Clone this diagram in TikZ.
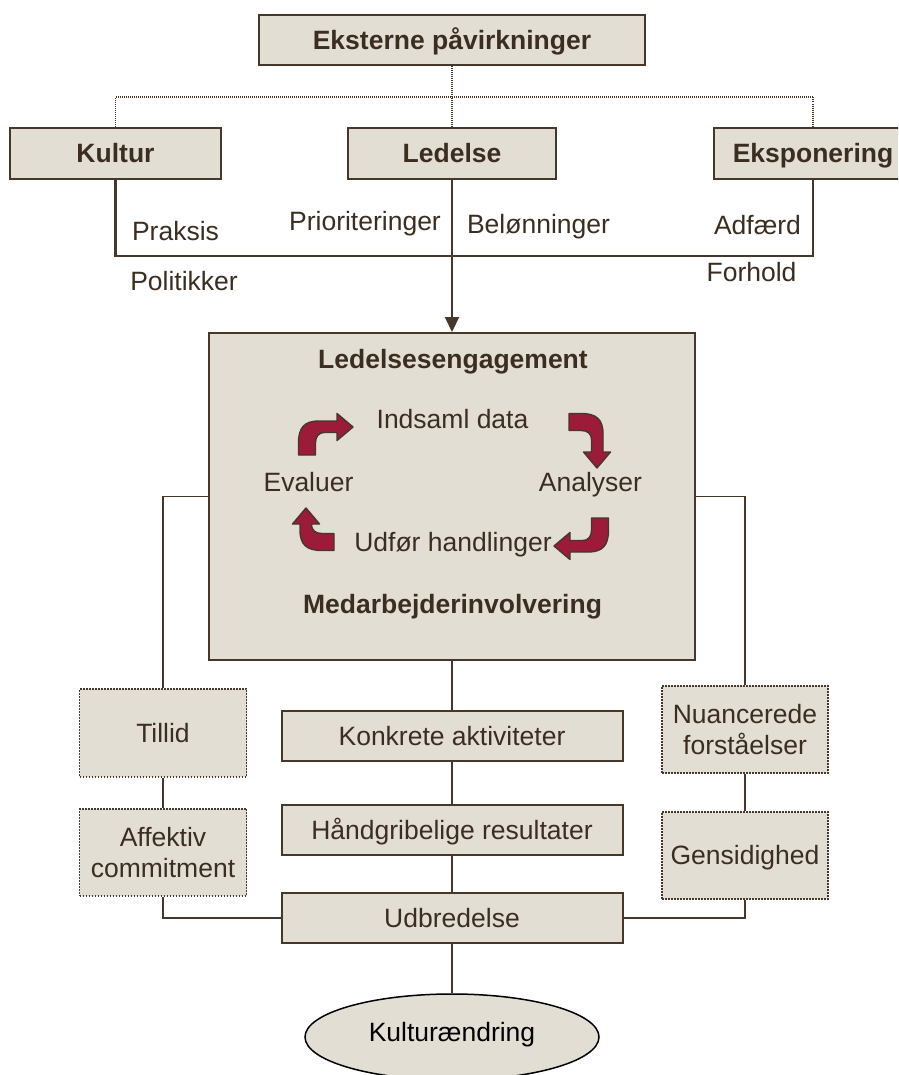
\documentclass[tikz,border=0pt]{standalone}
\usepackage{fontspec}
\setmainfont{Liberation Sans}
\usetikzlibrary{arrows.meta,shapes.geometric}
\definecolor{boxfill}{HTML}{E2DED4}
\definecolor{ink}{HTML}{45372A}
\definecolor{txt}{HTML}{3B2E20}
\definecolor{arrred}{HTML}{9B1B38}
\newcommand{\cycarrow}[4]{%
  \begin{scope}[shift={(#1,#2)}, rotate=#3]
    \filldraw[cyc] (-8.5,0) -- (-8.5,-12) .. controls (-8.5,-27) and (-3,-34) .. (12,-34) -- (#4,-34) -- (#4,-41.5)
      -- ({#4+16},-28) -- (#4,-14.5) -- (#4,-22.5) -- (18,-22.5) .. controls (11,-22.5) and (8.5,-18) .. (8.5,-12) -- (8.5,0) -- cycle;
  \end{scope}}
\begin{document}
\begin{tikzpicture}[x=1pt,y=-1pt,
  font=\fontsize{26.5}{31}\selectfont, text=txt,
  box/.style={draw=ink, line width=2pt, fill=boxfill, inner sep=0pt},
  strut/.style={text height=24pt, text depth=5.3pt},
  hbox/.style={box, strut, font=\fontsize{26.5}{31}\selectfont\bfseries},
  dbox/.style={box, line width=1.8pt, dash pattern=on 1.6pt off 1.4pt, align=center},
  conn/.style={draw=ink, line width=1.8pt},
  conntop/.style={draw=ink, line width=2.2pt},
  dotconn/.style={draw=ink, line width=1.3pt, dash pattern=on 1pt off 1pt},
  lbl/.style={inner sep=0pt, strut},
  blbl/.style={lbl, font=\fontsize{26.5}{31}\selectfont\bfseries},
  cyc/.style={fill=arrred, draw=ink, line width=1.4pt, line join=round}
]
\useasboundingbox (0,0) rectangle (898,1075);
\clip (0,0) rectangle (898,1075);
\fill[white] (0,0) rectangle (898,1075);

% top boxes
\node[hbox, minimum width=386pt, minimum height=50pt] (ext) at (452,40) {Eksterne påvirkninger};
\node[hbox, minimum width=211pt, minimum height=51pt] (kultur) at (115.5,153.5) {Kultur};
\node[hbox, minimum width=208pt, minimum height=51pt] (ledelse) at (452,153.5) {Ledelse};
\node[hbox, minimum width=198pt, minimum height=51pt] (ekspo) at (813,153.5) {Eksponering};

% main box
\node[box, minimum width=486pt, minimum height=327pt] (main) at (452,496.5) {};

% dotted connectors at top
\coordinate (dj) at (452,97);
\draw[dotconn] (ext.south) -- (ledelse.north);
\draw[dotconn] (kultur.north) |- (dj) -| (ekspo.north);

% solid connectors
\coordinate (sj) at (452,256);
\draw[conntop] (kultur.south) |- (sj) -| (ekspo.south);
\draw[conntop, -{Triangle[width=14pt,length=15pt]}] (ledelse.south) -- (main.north);

% labels
\node[lbl] (praksis) at (175.5,231) {Praksis};
\node[lbl] (politik) at (184,281) {Politikker};
\node[lbl] (priorit) at (365,221.5) {Prioriteringer};
\node[lbl] (belon) at (538.5,224) {Belønninger};
\node[lbl] (adfaerd) at (757.5,225) {Adfærd};
\node[lbl] (forhold) at (751.5,272) {Forhold};

% main box contents
\node[blbl] (ledeng) at (453,359.5) {Ledelsesengagement};
\node[lbl] (indsaml) at (452.5,419) {Indsaml data};
\node[lbl] (evaluer) at (308.5,482) {Evaluer};
\node[lbl] (analyser) at (590.5,482) {Analyser};
\node[lbl] (udfor) at (453,542) {Udfør handlinger};
\node[blbl] (medarb) at (452.5,604) {Medarbejderinvolvering};

\cycarrow{307}{455}{0}{30}
\cycarrow{569}{422}{-90}{30}
\cycarrow{600}{518}{180}{30}
\cycarrow{334}{542}{90}{18}

% lower column boxes
\node[dbox, strut, minimum width=167pt, minimum height=88pt] (tillid) at (163,733) {Tillid};
\node[dbox, minimum width=167pt, minimum height=87pt] (affekt) at (163,852.5) {Affektiv\\commitment};
\node[dbox, minimum width=166pt, minimum height=87pt] (nuanc) at (745,729.5) {Nuancerede\\forståelser};
\node[dbox, strut, minimum width=166pt, minimum height=87pt] (gensid) at (745,855.5) {Gensidighed};

\node[box, strut, minimum width=341pt, minimum height=50pt] (konk) at (452,736) {Konkrete aktiviteter};
\node[box, strut, minimum width=341pt, minimum height=50pt] (hand) at (452,830) {Håndgribelige resultater};
\node[box, strut, minimum width=341pt, minimum height=50pt] (udbr) at (452,918) {Udbredelse};

\node[ellipse, draw=black, line width=1.5pt, fill=boxfill, minimum width=294pt, minimum height=86pt,
      inner sep=0pt, text=black, text height=24pt, text depth=15.4pt] (kult) at (452,1037) {Kulturændring};

% lower connectors
\draw[conn] (main.west) -| (tillid.north);
\draw[conn] (main.east) -| (nuanc.north);
\draw[conn] (tillid.south) -- (affekt.north);
\draw[conn] (nuanc.south) -- (gensid.north);
\draw[conn] (affekt.south) |- (udbr.west);
\draw[conn] (gensid.south) |- (udbr.east);
\draw[conn] (main.south) -- (konk.north);
\draw[conn] (konk.south) -- (hand.north);
\draw[conn] (hand.south) -- (udbr.north);
\draw[conn] (udbr.south) -- (kult.north);
\end{tikzpicture}
\end{document}
